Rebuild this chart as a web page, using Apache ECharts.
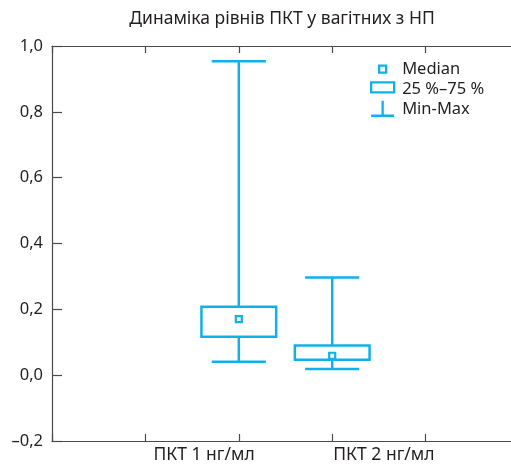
<!DOCTYPE html>
<html>
<head>
<meta charset="utf-8">
<script src="https://cdn.jsdelivr.net/npm/echarts@6/dist/echarts.min.js"></script>
<style>html,body{margin:0;padding:0;background:#fff}#c{width:511px;height:466px}</style>
</head>
<body>
<div id="c"></div>
<script>
const title = 'Динаміка рівнів ПКТ у вагітних з НП';
const categories = ['ПКТ 1 нг/мл', 'ПКТ 2 нг/мл'];
const minValues = [0.041, 0.019];
const q1Values = [0.117, 0.047];
const medianValues = [0.170, 0.059];
const q3Values = [0.208, 0.090];
const maxValues = [0.954, 0.297];
const legendNames = ['Median', '25 %–75 %', 'Min-Max'];

const C = '#10b1ea';
const TXT = '#231f20';
const AX = '#4a4a4a';
const FONT = 'Noto Sans';
const FS = 16.5;
const FSX = 17.5;

const labelAxisData = ['', categories[0], '', categories[1], ''];
const topAxisData = ['t0', 't1', 't2', 't3', 't4'];
const dataAxisData = ['a', 'b', categories[0], categories[1], 'c', 'd'];
const rows = categories.map((c, i) => [c, minValues[i], q1Values[i], medianValues[i], q3Values[i], maxValues[i]]);

const chart = echarts.init(document.getElementById('c'), null, {renderer: 'canvas'});

function whiskers(params, api) {
  const cat = api.value(0);
  const band = api.size([1, 0])[0];
  const half = band * 0.29;
  const pMin = api.coord([cat, api.value(1)]);
  const pQ1 = api.coord([cat, api.value(2)]);
  const pQ3 = api.coord([cat, api.value(4)]);
  const pMax = api.coord([cat, api.value(5)]);
  const st = {stroke: C, lineWidth: 2.5, fill: null};
  return {type: 'group', children: [
    {type: 'line', shape: {x1: pMin[0], y1: pMin[1], x2: pQ1[0], y2: pQ1[1]}, style: st},
    {type: 'line', shape: {x1: pQ3[0], y1: pQ3[1], x2: pMax[0], y2: pMax[1]}, style: st},
    {type: 'line', shape: {x1: pMin[0] - half, y1: pMin[1], x2: pMin[0] + half, y2: pMin[1]}, style: st},
    {type: 'line', shape: {x1: pMax[0] - half, y1: pMax[1], x2: pMax[0] + half, y2: pMax[1]}, style: st}
  ]};
}
function boxes(params, api) {
  const cat = api.value(0);
  const band = api.size([1, 0])[0];
  const w = band * 0.8;
  const pQ1 = api.coord([cat, api.value(2)]);
  const pQ3 = api.coord([cat, api.value(4)]);
  return {type: 'rect', shape: {x: pQ1[0] - w / 2, y: pQ3[1], width: w, height: pQ1[1] - pQ3[1]},
    style: {stroke: C, lineWidth: 2.5, fill: '#fff'}};
}
function medians(params, api) {
  const cat = api.value(0);
  const p = api.coord([cat, api.value(3)]);
  const s = 6;
  return {type: 'rect', shape: {x: p[0] - s / 2, y: p[1] - s / 2, width: s, height: s},
    style: {stroke: C, lineWidth: 2.2, fill: '#fff'}};
}

const iconStyle = {color: '#fff', borderColor: C, borderWidth: 2.3};
const option = {
  animation: false,
  backgroundColor: '#fff',
  textStyle: {fontFamily: FONT},
  title: {text: title, left: 277, top: 5, textAlign: 'center',
    textStyle: {fontFamily: FONT, fontSize: 17.5, fontWeight: 'normal', color: TXT}},
  legend: {
    orient: 'vertical', left: 370, top: 59, padding: 0, itemGap: 0,
    itemWidth: 26, itemHeight: 18,
    textStyle: {fontFamily: FONT, fontSize: FS, color: TXT, lineHeight: 18, padding: [0, 0, 0, 0]},
    data: [
      {name: legendNames[0], icon: 'path://M0,0 M26,18 M8,5.5 L15,5.5 L15,12.5 L8,12.5 Z', itemStyle: iconStyle},
      {name: legendNames[1], icon: 'path://M0,0 M26,18 M0,2 L23,2 L23,12 L0,12 Z', itemStyle: iconStyle},
      {name: legendNames[2], icon: 'path://M0,0 M26,18 M11.5,0 L11.5,15 M0,15 L23,15', itemStyle: iconStyle}
    ]
  },
  grid: [
    {left: 52, top: 46, width: 467, height: 395, containLabel: false, outerBoundsMode: 'none'},
    {left: 52, top: 46, width: 467, height: 7, containLabel: false, outerBoundsMode: 'none'}
  ],
  xAxis: [
    {type: 'category', gridIndex: 0, data: labelAxisData, boundaryGap: true, position: 'bottom',
      axisLine: {onZero: false, lineStyle: {color: AX, width: 1.2}},
      axisTick: {show: true, interval: 0, inside: true, length: 7, lineStyle: {color: AX, width: 1.2}},
      axisLabel: {margin: 5, fontFamily: FONT, fontSize: FSX, color: TXT, interval: 0,
        formatter: (v) => v === categories[0] ? '{a|' + v + '}' : (v === categories[1] ? '{b|' + v + '}' : ''),
        rich: {a: {padding: [0, 0, 0, 24], fontFamily: FONT, fontSize: FSX, color: TXT},
               b: {padding: [0, 0, 0, 10], fontFamily: FONT, fontSize: FSX, color: TXT}}}},
    {type: 'category', gridIndex: 0, data: topAxisData, boundaryGap: true, position: 'top',
      axisLine: {show: true, onZero: false, lineStyle: {color: AX, width: 1.2}},
      axisTick: {show: false}, axisLabel: {show: false}},
    {type: 'category', gridIndex: 0, data: dataAxisData, boundaryGap: false, position: 'bottom', show: false,
      axisLine: {onZero: false}},
    {type: 'category', gridIndex: 1, data: topAxisData, boundaryGap: true, position: 'bottom',
      axisLine: {show: false, onZero: false},
      axisTick: {show: true, interval: 0, inside: true, length: 7, lineStyle: {color: AX, width: 1.2}},
      axisLabel: {show: true, interval: 0, formatter: () => ''}}
  ],
  yAxis: [
    {type: 'value', gridIndex: 0, min: -0.2, max: 1.0, interval: 0.2,
      axisLine: {show: true, onZero: false, lineStyle: {color: AX, width: 1.2}},
      axisTick: {show: true, inside: true, length: 10, lineStyle: {color: AX, width: 1.2}},
      splitLine: {show: false},
      axisLabel: {margin: 9, fontFamily: FONT, fontSize: FS, color: TXT,
        formatter: (v) => (v < -1e-9 ? '–' : '') + Math.abs(v).toFixed(1).replace('.', ',')}},
    {type: 'value', gridIndex: 1, min: 0, max: 1, show: false,
      axisLine: {show: false, onZero: false}, splitLine: {show: false}}
  ],
  series: [
    {name: legendNames[2], type: 'custom', xAxisIndex: 2, yAxisIndex: 0, renderItem: whiskers, data: rows,
      encode: {x: 0, y: [1, 5]}, itemStyle: {color: C}},
    {name: legendNames[1], type: 'custom', xAxisIndex: 2, yAxisIndex: 0, renderItem: boxes, data: rows,
      encode: {x: 0, y: [2, 4]}, itemStyle: {color: C}},
    {name: legendNames[0], type: 'custom', xAxisIndex: 2, yAxisIndex: 0, renderItem: medians, data: rows,
      encode: {x: 0, y: 3}, itemStyle: {color: C}}
  ]
};
chart.setOption(option);
</script>
</body>
</html>
